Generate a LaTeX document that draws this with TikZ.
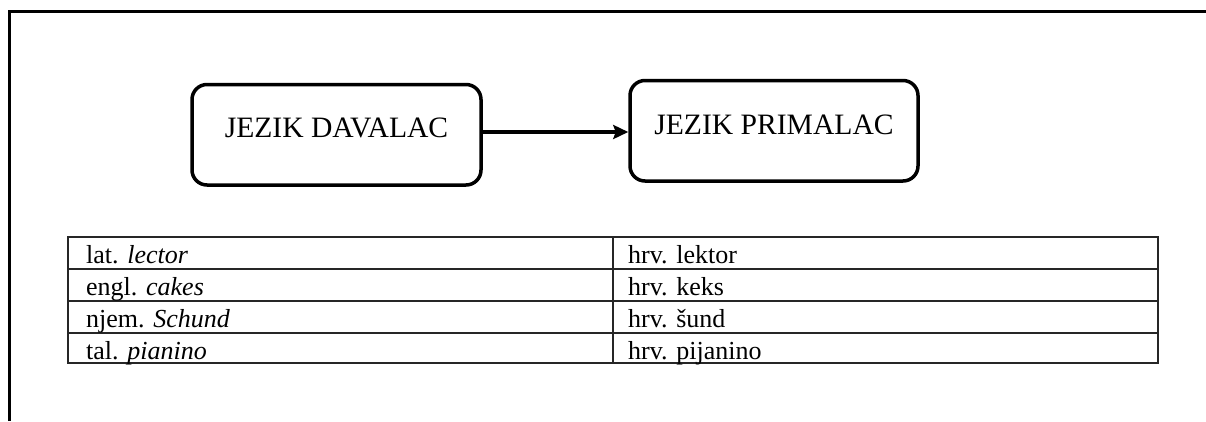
\documentclass[tikz,border=0pt]{standalone}
\usepackage{fontspec}
\setmainfont{Liberation Serif}
\usetikzlibrary{arrows.meta}
\begin{document}
\begin{tikzpicture}[x=1pt,y=-1pt,
  langbox/.style={draw=black, line width=3.5pt, rounded corners=15pt,
    minimum width=289pt, minimum height=100.5pt, inner sep=0pt,
    font=\fontsize{29.6pt}{35pt}\selectfont, text height=19.5pt},
  cell/.style={anchor=base west, inner sep=0pt, font=\fontsize{26pt}{30pt}\selectfont},
  tabline/.style={draw=black!85, line width=1.5pt},
  framel/.style={draw=black, line width=3pt},
  link/.style={draw=black, line width=3.5pt, -{Stealth[length=15pt,width=14pt,inset=2.5pt]}}
]
\useasboundingbox (0,0) rectangle (1206,421);
% outer frame
\coordinate (fbl) at (9,421);
\coordinate (ftl) at (9,11);
\coordinate (ftr) at (1206,11);
\draw[framel] (fbl) -- (ftl) -- (ftr);
% boxes
\node[langbox, text depth=14.5pt] (giver) at (336.5,134.75) {JEZIK DAVALAC};
\node[langbox, minimum width=288pt, text depth=12.5pt] (taker) at (774,130.75) {JEZIK PRIMALAC};
\draw[link] (giver.east |- 0,132) -- (taker.west |- 0,132);
% table
\draw[tabline] (68,237) rectangle (1158,363);
\draw[tabline] (68,269) -- (1158,269);
\draw[tabline] (68,301) -- (1158,301);
\draw[tabline] (68,333) -- (1158,333);
\draw[tabline] (613,237) -- (613,363);
\node[cell] (a1) at (86,263) {lat. \textit{lector}};
\node[cell] (a2) at (86,295) {engl. \textit{cakes}};
\node[cell] (a3) at (86,327) {njem. \textit{Schund}};
\node[cell] (a4) at (86,359) {tal. \textit{pianino}};
\node[cell] (b1) at (628,263) {hrv. lektor};
\node[cell] (b2) at (628,295) {hrv. keks};
\node[cell] (b3) at (628,327) {hrv. šund};
\node[cell] (b4) at (628,359) {hrv. pijanino};
\end{tikzpicture}
\end{document}
